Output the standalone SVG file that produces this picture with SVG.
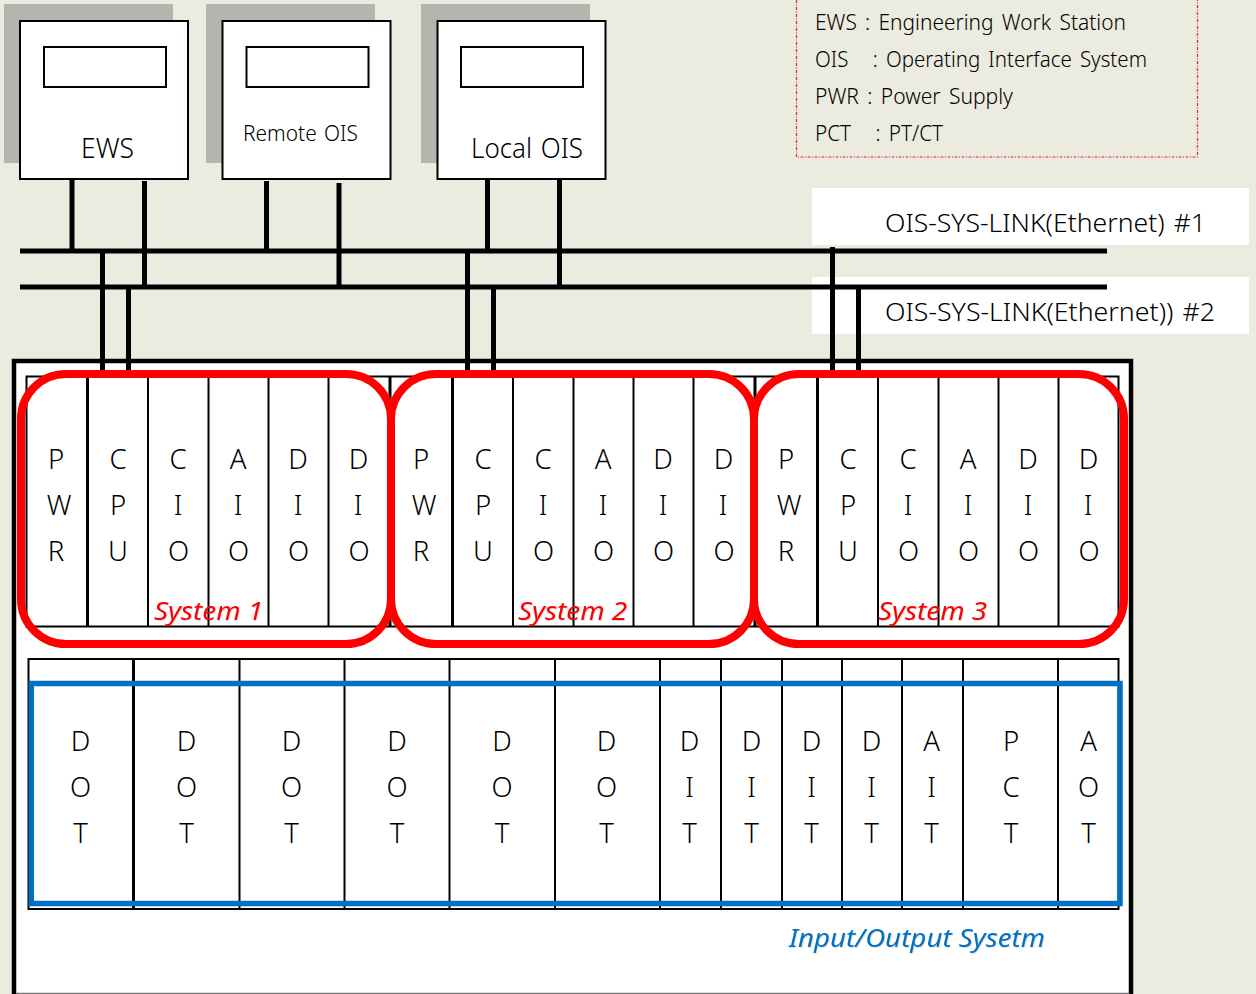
<svg xmlns="http://www.w3.org/2000/svg" width="1256" height="994" viewBox="0 0 1256 994">
<style>
text{font-family:"Noto Sans","Open Sans",sans-serif;fill:#000;font-weight:300}
.shadow{fill:#b5b4ae}
.box{fill:#fff;stroke:#000;stroke-width:2}
.wire{stroke:#000;stroke-width:5;fill:none}
.bus{stroke:#000;stroke-width:5;fill:none}
.div{stroke:#000;stroke-width:2;fill:none}
.divt{stroke:#000;stroke-width:3;fill:none}
.l{font-size:27.500px;text-anchor:middle}
.leg{font-size:22px;word-spacing:3px}
.link{font-size:26px;word-spacing:2px}
.sys{font-size:26px;font-style:italic;fill:#ff0000;font-weight:400;filter:drop-shadow(1px 1px 0 rgba(0,0,0,.12))}
.red{fill:none;stroke:#ff0000;stroke-width:8}
</style>
<rect id="background" width="1256" height="994" fill="#ecebdf"/>

<g id="ews"><rect class="shadow" x="4" y="4" width="169" height="159"/><rect class="box" x="20" y="21" width="168" height="158"/><rect class="box" x="44" y="47" width="122" height="40"/><text x="81" y="158" font-size="27" textLength="53" lengthAdjust="spacingAndGlyphs">EWS</text></g>
<g id="remote-ois"><rect class="shadow" x="206" y="4" width="169" height="159"/><rect class="box" x="222.500" y="21" width="168" height="158"/><rect class="box" x="246.500" y="47" width="122" height="40"/><text x="243" y="141" font-size="22" word-spacing="2" textLength="115" lengthAdjust="spacingAndGlyphs">Remote OIS</text></g>
<g id="local-ois"><rect class="shadow" x="421" y="4" width="169" height="159"/><rect class="box" x="437.500" y="21" width="168" height="158"/><rect class="box" x="461" y="47" width="122" height="40"/><text x="471" y="158" font-size="27" word-spacing="2" textLength="112" lengthAdjust="spacingAndGlyphs">Local OIS</text></g>

<g id="legend">
<path d="M796.500 0V157H1197.500V0" fill="none" stroke="#e8203a" stroke-width="1.200" stroke-dasharray="3 1.500 1 1.500"/>
<text class="leg" x="815" y="30" textLength="311" lengthAdjust="spacingAndGlyphs">EWS : Engineering Work Station</text>
<text class="leg" x="815" y="67" textLength="332" xml:space="preserve" lengthAdjust="spacingAndGlyphs">OIS   : Operating Interface System</text>
<text class="leg" x="815" y="104" textLength="198" lengthAdjust="spacingAndGlyphs">PWR : Power Supply</text>
<text class="leg" x="815" y="141" textLength="128" xml:space="preserve" lengthAdjust="spacingAndGlyphs">PCT   : PT/CT</text>
</g>

<g id="link-label-1"><rect x="812" y="188" width="437" height="57" fill="#fff"/><text class="link" x="885" y="232" textLength="321" lengthAdjust="spacingAndGlyphs">OIS-SYS-LINK(Ethernet) #1</text></g>
<g id="link-label-2"><rect x="812" y="277" width="437" height="57" fill="#fff"/><text class="link" x="885" y="321" textLength="330" lengthAdjust="spacingAndGlyphs">OIS-SYS-LINK(Ethernet)) #2</text></g>

<g id="chassis"><rect x="14" y="361" width="1117" height="640" fill="#fff" stroke="#000" stroke-width="4.500"/><path d="M16 993.500H1129" stroke="#777" stroke-width="1.500"/></g>

<g id="connectors">
<path class="bus" d="M20 251H1107M20 287H1107"/>
<path class="wire" d="M72 179V251M144.500 181V287M266.500 181V251M339 183V287M487.500 178V251M559.500 180V287"/>
<path class="wire" d="M102.500 251V372M128.500 287V372M467.500 251V372M493.500 287V372M832.500 247V372M858.500 287V372"/>
</g>

<g id="upper-rack">
<rect x="26.500" y="376.500" width="1092" height="250" fill="#fff" stroke="#000" stroke-width="2"/>
<path class="divt" d="M87.500 376V627M452.500 376V627M817.500 376V627M390 376V627M755 376V627"/>
<path class="div" d="M148 376V627M208.500 376V627M268.500 376V627M328.500 376V627M513 376V627M573.500 376V627M633.500 376V627M693.500 376V627M878 376V627M938.500 376V627M998.500 376V627M1058.500 376V627"/>
</g>

<g id="system-1-modules" transform="translate(0 1)">
<text class="l" x="56" y="468">P</text><text class="l" x="59" y="514">W</text><text class="l" x="56" y="560">R</text>
<text class="l" x="118" y="468">C</text><text class="l" x="118" y="514">P</text><text class="l" x="118" y="560">U</text>
<text class="l" x="178" y="468">C</text><text class="l" x="178" y="514">I</text><text class="l" x="178.500" y="560">O</text>
<text class="l" x="238" y="468">A</text><text class="l" x="238" y="514">I</text><text class="l" x="238.500" y="560">O</text>
<text class="l" x="298" y="468">D</text><text class="l" x="298" y="514">I</text><text class="l" x="298.500" y="560">O</text>
<text class="l" x="358.500" y="468">D</text><text class="l" x="358" y="514">I</text><text class="l" x="359" y="560">O</text>
</g>
<g id="system-2-modules" transform="translate(0 1)">
<text class="l" x="421" y="468">P</text><text class="l" x="424" y="514">W</text><text class="l" x="421" y="560">R</text>
<text class="l" x="483" y="468">C</text><text class="l" x="483" y="514">P</text><text class="l" x="483" y="560">U</text>
<text class="l" x="543" y="468">C</text><text class="l" x="543" y="514">I</text><text class="l" x="543.500" y="560">O</text>
<text class="l" x="603" y="468">A</text><text class="l" x="603" y="514">I</text><text class="l" x="603.500" y="560">O</text>
<text class="l" x="663" y="468">D</text><text class="l" x="663" y="514">I</text><text class="l" x="663.500" y="560">O</text>
<text class="l" x="723.500" y="468">D</text><text class="l" x="723" y="514">I</text><text class="l" x="724" y="560">O</text>
</g>
<g id="system-3-modules" transform="translate(0 1)">
<text class="l" x="786" y="468">P</text><text class="l" x="789" y="514">W</text><text class="l" x="786" y="560">R</text>
<text class="l" x="848" y="468">C</text><text class="l" x="848" y="514">P</text><text class="l" x="848" y="560">U</text>
<text class="l" x="908" y="468">C</text><text class="l" x="908" y="514">I</text><text class="l" x="908.500" y="560">O</text>
<text class="l" x="968" y="468">A</text><text class="l" x="968" y="514">I</text><text class="l" x="968.500" y="560">O</text>
<text class="l" x="1028" y="468">D</text><text class="l" x="1028" y="514">I</text><text class="l" x="1028.500" y="560">O</text>
<text class="l" x="1088.500" y="468">D</text><text class="l" x="1088" y="514">I</text><text class="l" x="1089" y="560">O</text>
</g>

<g id="system-1"><rect class="red" x="21" y="374" width="370" height="270" rx="45"/><text class="sys" x="154" y="620" textLength="109" lengthAdjust="spacingAndGlyphs">System 1</text></g>
<g id="system-2"><rect class="red" x="391" y="374" width="363" height="270" rx="45"/><text class="sys" x="518" y="620" textLength="109" lengthAdjust="spacingAndGlyphs">System 2</text></g>
<g id="system-3"><rect class="red" x="754" y="374" width="370" height="270" rx="45"/><text class="sys" x="878" y="620" textLength="109" lengthAdjust="spacingAndGlyphs">System 3</text></g>

<g id="lower-rack">
<rect x="28.500" y="659" width="1090" height="250" fill="#fff" stroke="#000" stroke-width="2"/>
<path class="divt" d="M133.500 659V910"/>
<path class="div" d="M239.500 659V910M344.500 659V910M449.500 659V910M555 659V910M660 659V910M721 659V910M782 659V910M842 659V910M902 659V910M963 659V910M1058 659V910"/>
<g transform="translate(0 1)">
<text class="l" x="80.500" y="750">D</text><text class="l" x="80.500" y="796">O</text><text class="l" x="80.500" y="842">T</text>
<text class="l" x="186.500" y="750">D</text><text class="l" x="186.500" y="796">O</text><text class="l" x="186.500" y="842">T</text>
<text class="l" x="291.500" y="750">D</text><text class="l" x="291.500" y="796">O</text><text class="l" x="291.500" y="842">T</text>
<text class="l" x="397" y="750">D</text><text class="l" x="397" y="796">O</text><text class="l" x="397" y="842">T</text>
<text class="l" x="502" y="750">D</text><text class="l" x="502" y="796">O</text><text class="l" x="502" y="842">T</text>
<text class="l" x="606.500" y="750">D</text><text class="l" x="606.500" y="796">O</text><text class="l" x="606.500" y="842">T</text>
<text class="l" x="689.500" y="750">D</text><text class="l" x="689.500" y="796">I</text><text class="l" x="689.500" y="842">T</text>
<text class="l" x="751.500" y="750">D</text><text class="l" x="751.500" y="796">I</text><text class="l" x="751.500" y="842">T</text>
<text class="l" x="811.500" y="750">D</text><text class="l" x="811.500" y="796">I</text><text class="l" x="811.500" y="842">T</text>
<text class="l" x="871.500" y="750">D</text><text class="l" x="871.500" y="796">I</text><text class="l" x="871.500" y="842">T</text>
<text class="l" x="931.500" y="750">A</text><text class="l" x="931.500" y="796">I</text><text class="l" x="931.500" y="842">T</text>
<text class="l" x="1011" y="750">P</text><text class="l" x="1011" y="796">C</text><text class="l" x="1011" y="842">T</text>
<text class="l" x="1088.500" y="750">A</text><text class="l" x="1088.500" y="796">O</text><text class="l" x="1088.500" y="842">T</text>
</g>
</g>

<g id="io-system"><rect x="31.300" y="683.500" width="1088.700" height="220" fill="none" stroke="#0070c0" stroke-width="5.500"/><text x="789" y="947" font-size="26" font-style="italic" style="fill:#0070c0;font-weight:400;filter:drop-shadow(1px 1px 0 rgba(0,0,0,.12))" textLength="256" lengthAdjust="spacingAndGlyphs">Input/Output Sysetm</text></g>
</svg>
